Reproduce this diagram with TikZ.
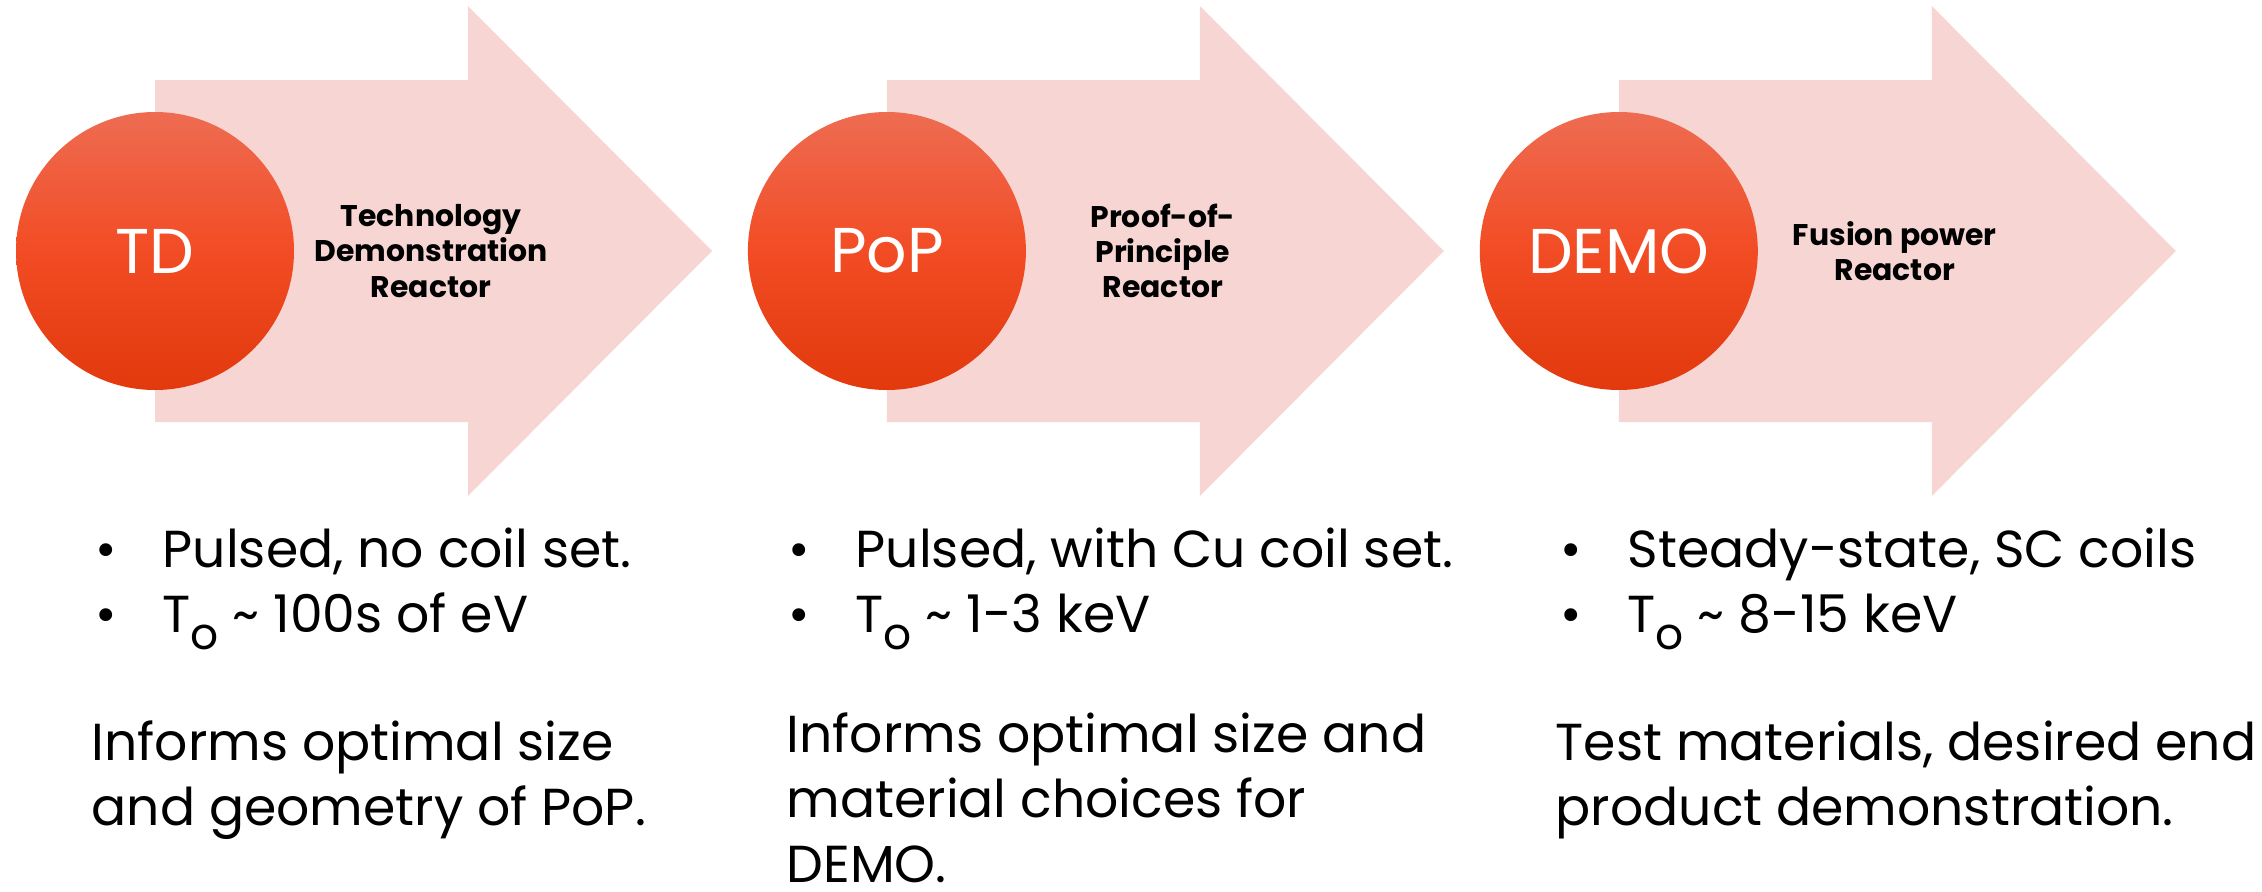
\documentclass[tikz,border=0pt]{standalone}
\usepackage{fontspec}
\setmainfont{Poppins}
\usetikzlibrary{positioning,calc,backgrounds}
\definecolor{arrowpink}{HTML}{F6D5D3}
\definecolor{discTop}{HTML}{EE6C52}
\definecolor{discMid}{HTML}{F24C24}
\definecolor{discBot}{HTML}{E2390D}

\tikzset{
  stage/.style={circle, minimum size=2.78cm, inner sep=0pt,
    top color=discTop, bottom color=discBot, middle color=discMid,
    text=white, font=\fontsize{18}{20}\selectfont},
  stagearrow/.style={fill=arrowpink},
  steplabel/.style={align=center, inner sep=0pt, font=\bfseries\fontsize{8.5}{10}\selectfont},
  bullets/.style={align=left, anchor=base west, inner sep=0pt, font=\fontsize{14.8}{18.4}\selectfont},
}
\newcommand{\bul}{\makebox[0.67cm][l]{\textbullet}}
\newcommand{\Tsub}{T\raisebox{-0.33em}{\fontsize{12.5}{12.5}\selectfont o}}

\begin{document}
\begin{tikzpicture}
  \useasboundingbox (0,0) rectangle (22.62,8.91);

  % three stages
  \node[stage] (td) at (1.55,6.40) {TD};
  \node[stage, right = 4.525cm of td] (pop) {PoP};
  \node[stage, right = 4.525cm of pop] (demo) {DEMO};

  % block arrows behind the discs
  \begin{scope}[on background layer]
    \foreach \s in {td,pop,demo}
      \fill[stagearrow] (\s.center) ++(0,1.71) -- ++(3.13,0) -- ++(0,0.74)
        -- ++(2.44,-2.45) -- ++(-2.44,-2.45) -- ++(0,0.74) -- ++(-3.13,0) -- cycle;
  \end{scope}

  \node[steplabel] (tdlabel) at ([xshift=2.76cm]td.center) {Technology\\Demonstration\\Reactor};
  \node[steplabel] (poplabel) at ([xshift=2.76cm]pop.center) {Proof-of-\\Principle\\Reactor};
  \node[steplabel] (demolabel) at ([xshift=2.76cm]demo.center) {Fusion power\\Reactor};

  % notes under each stage (base = last line)
  \node[bullets] (tdlist) at (0.95,2.59) {\bul Pulsed, no coil set.\\
    \bul \Tsub{} \textasciitilde{} 100s of eV};
  \node[bullets] (poplist) at (7.88,2.59) {\bul Pulsed, with Cu coil set.\\
    \bul \Tsub{} \textasciitilde{} 1-3 keV};
  \node[bullets] (demolist) at (15.60,2.59) {\bul Steady-state, SC coils\\
    \bul \Tsub{} \textasciitilde{} 8-15 keV};

  \node[bullets] (tdnote) at (0.91,0.66) {Informs optimal size\\and geometry of PoP.};
  \node[bullets] (popnote) at (7.86,0.09) {Informs optimal size and\\material choices for\\DEMO.};
  \node[bullets] (demonote) at (15.55,0.66) {Test materials, desired end\\product demonstration.};
\end{tikzpicture}
\end{document}
